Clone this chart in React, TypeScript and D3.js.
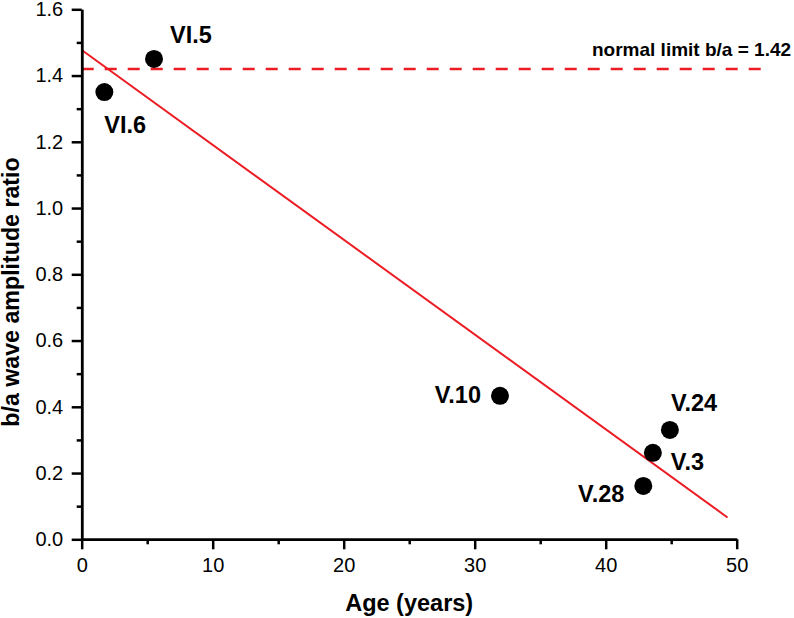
import React, { useEffect, useRef } from 'react'
import * as d3 from 'd3'

// subject labels and measured values
const subjects = ['VI.6', 'VI.5', 'V.10', 'V.24', 'V.3', 'V.28']
const ages = [1.73, 5.52, 31.93, 44.9, 43.6, 42.87]
const ratios = [1.35, 1.45, 0.433, 0.33, 0.261, 0.161]

// linear fit endpoints (as drawn)
const fitAges = [0, 49.3]
const fitRatios = [1.477, 0.066]

const normalLimit = 1.42
const normalLabel = 'normal limit b/a = 1.42'

const xTicks = [0, 10, 20, 30, 40, 50]
const xMinor = [5, 15, 25, 35, 45]
const yTicks = [0, 0.2, 0.4, 0.6, 0.8, 1.0, 1.2, 1.4, 1.6]
const yMinor = [0.1, 0.3, 0.5, 0.7, 0.9, 1.1, 1.3, 1.5]

// label placement around each marker: [dx, dy, anchor]
const labelPlace: [number, number, string][] = [
  [0, 41, 'start'],
  [16, -16, 'start'],
  [-19, 7, 'end'],
  [1, -19, 'start'],
  [18, 17, 'start'],
  [-19, 16, 'end'],
]

const W = 794
const H = 618
const FONT = '"Liberation Sans", Arial, Helvetica, sans-serif'
const RED = '#ec1c24'

export default function App() {
  const ref = useRef<SVGSVGElement>(null)

  useEffect(() => {
    const svg = d3.select(ref.current)
    svg.selectAll('*').remove()

    const x = d3.scaleLinear().domain([0, 50]).range([81.7, 736.7])
    const y = d3.scaleLinear().domain([0, 1.6]).range([539.3, 9.3])

    const g = svg.append('g')

    // fit line
    const line = d3.line<number>()
      .x(d => x(fitAges[d]))
      .y(d => y(fitRatios[d]))
    g.append('path')
      .datum([0, 1])
      .attr('d', line)
      .attr('fill', 'none')
      .attr('stroke', RED)
      .attr('stroke-width', 2)

    // normal limit dashed line
    g.append('line')
      .attr('x1', x(0))
      .attr('x2', x(52))
      .attr('y1', y(normalLimit))
      .attr('y2', y(normalLimit))
      .attr('stroke', RED)
      .attr('stroke-width', 2.5)
      .attr('stroke-dasharray', '12,11')

    g.append('text')
      .attr('x', 592)
      .attr('y', 56)
      .attr('font-family', FONT)
      .attr('font-weight', 'bold')
      .attr('font-size', 19)
      .text(normalLabel)

    // axes
    const styleAxis = (sel: any) => {
      sel.selectAll('path').attr('stroke', '#000').attr('stroke-width', 2.5)
      sel.selectAll('line').attr('stroke', '#000').attr('stroke-width', 2.5)
      sel.selectAll('text')
        .attr('font-family', FONT)
        .attr('font-size', 20)
        .attr('fill', '#000')
    }

    g.append('g')
      .attr('transform', `translate(0,${y(0)})`)
      .call(d3.axisBottom(x).tickValues(xMinor).tickSize(5).tickSizeOuter(0).tickFormat(() => ''))
      .call(styleAxis)
    g.append('g')
      .attr('transform', `translate(0,${y(0)})`)
      .call(d3.axisBottom(x).tickValues(xTicks).tickSize(10).tickPadding(9).tickSizeOuter(0).tickFormat(d3.format('d')))
      .call(styleAxis)

    g.append('g')
      .attr('transform', `translate(${x(0)},0)`)
      .call(d3.axisLeft(y).tickValues(yMinor).tickSize(5).tickSizeOuter(0).tickFormat(() => ''))
      .call(styleAxis)
    g.append('g')
      .attr('transform', `translate(${x(0)},0)`)
      .call(d3.axisLeft(y).tickValues(yTicks).tickSize(10).tickPadding(8.5).tickSizeOuter(0).tickFormat(d3.format('.1f')))
      .call(styleAxis)

    // points
    const idx = d3.range(subjects.length)
    g.selectAll('circle.pt')
      .data(idx)
      .enter()
      .append('circle')
      .attr('class', 'pt')
      .attr('cx', i => x(ages[i]))
      .attr('cy', i => y(ratios[i]))
      .attr('r', 9)
      .attr('fill', '#000')

    g.selectAll('text.lbl')
      .data(idx)
      .enter()
      .append('text')
      .attr('class', 'lbl')
      .attr('x', i => x(ages[i]) + labelPlace[i][0])
      .attr('y', i => y(ratios[i]) + labelPlace[i][1])
      .attr('text-anchor', i => labelPlace[i][2])
      .attr('font-family', FONT)
      .attr('font-weight', 'bold')
      .attr('font-size', 23.5)
      .text(i => subjects[i])

    // axis titles
    g.append('text')
      .attr('x', (x(0) + x(50)) / 2)
      .attr('y', 611)
      .attr('text-anchor', 'middle')
      .attr('font-family', FONT)
      .attr('font-weight', 'bold')
      .attr('font-size', 23.5)
      .text('Age (years)')

    g.append('text')
      .attr('transform', `translate(19,${292}) rotate(-90)`)
      .attr('text-anchor', 'middle')
      .attr('font-family', FONT)
      .attr('font-weight', 'bold')
      .attr('font-size', 23.2)
      .text('b/a wave amplitude ratio')
  }, [])

  return (
    <svg
      ref={ref}
      width={W}
      height={H}
      style={{ position: 'absolute', left: 0, top: 0, background: '#fff' }}
    />
  )
}
